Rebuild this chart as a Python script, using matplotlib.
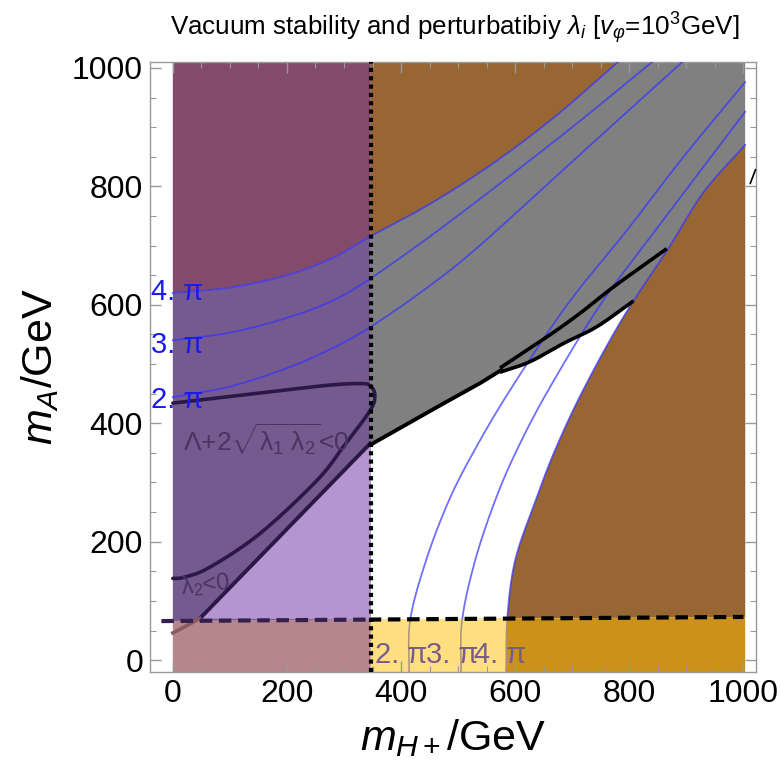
import numpy as np
import matplotlib
matplotlib.use("Agg")
import matplotlib.pyplot as plt

plt.rcParams['font.family'] = ['Liberation Sans', 'DejaVu Sans']
plt.rcParams['mathtext.fontset'] = 'custom'
plt.rcParams['mathtext.rm'] = 'Liberation Sans'
plt.rcParams['mathtext.it'] = 'Liberation Sans:italic'
plt.rcParams['mathtext.bf'] = 'Liberation Sans:bold'

# ---------------- boundary data (m_H+, m_A) in GeV ----------------
mH_cut = 347                      # vertical (dotted) bound on m_H+
mA_cut_x = [-20, 1000]            # horizontal (dashed) bound on m_A
mA_cut_y = [66, 73]

# perturbativity contours, family crossing the left edge
pert4L_x = [0, 100, 200, 280, 347, 450, 560, 670, 780]
pert4L_y = [620, 629, 650, 679, 716, 770, 838, 918, 1010]
pert3L_x = [0, 100, 200, 280, 347, 450, 560, 700, 840]
pert3L_y = [540, 553, 578, 607, 645, 715, 795, 900, 1010]
pert2L_x = [0, 100, 200, 280, 347, 450, 539, 700, 895]
pert2L_y = [444, 462, 493, 527, 563, 632, 701, 842, 1012]

# perturbativity contours, family rising from the bottom edge
pert4R_x = [584, 586, 600, 636, 670, 719, 790, 867, 930, 1003]
pert4R_y = [-20, 70, 169, 270, 355, 456, 580, 693, 790, 870]
pert3R_x = [505, 507, 530, 565, 603, 658, 749, 846, 1003]
pert3R_y = [-20, 68, 169, 270, 355, 456, 600, 726, 926]
pert2R_x = [414, 416, 444, 484, 529, 591, 691, 796, 895, 1003]
pert2R_y = [-20, 68, 169, 270, 355, 456, 600, 726, 850, 976]

# vacuum-stability boundaries
lam_x = [0, 153, 270, 330, 346, 354, 346, 300, 253, 153, 65, 20, 0]
lam_y = [434, 451, 464, 467, 463, 448, 422, 362, 304, 214, 157, 140, 138]
lam2_x = [47, 346]
lam2_y = [70, 366]
lam2_low_x = [0, 20, 47]
lam2_low_y = [46, 56, 70]
stab_c_x = [347, 468, 539, 576]
stab_c_y = [364, 430, 468, 490]
stab_d_x = [576, 656, 714, 772, 863]
stab_d_y = [495, 546, 586, 630, 693]
stab_e_x = [576, 626, 685, 743, 805]
stab_e_y = [487, 504, 535, 563, 605]

contour_labels = ["2. π", "3. π", "4. π"]
left_label_y = [439, 532, 622]
bottom_label_x = [400, 489, 574]

# plot frame
x_lo, x_hi = -40, 1022
y_lo, y_hi = -20, 1010
x_fill_hi = 1003

C_MAROON = '#844a6b'
C_PURPLE = '#745a8f'
C_LILAC = '#b495cf'
C_PINK = '#b5868c'
C_BROWN = '#976633'
C_GRAY = '#808080'
C_YELLOW = '#ffdf80'
C_GOLD = '#cc9119'
C_BLUE = (0.2, 0.2, 1.0)


def smooth(xs, ys, n=40):
    """Catmull-Rom interpolation through the given nodes."""
    p = np.column_stack([xs, ys]).astype(float)
    if len(p) < 3:
        return p[:, 0], p[:, 1]
    p = np.vstack([2 * p[0] - p[1], p, 2 * p[-1] - p[-2]])
    out = []
    t = np.linspace(0, 1, n, endpoint=False)[:, None]
    for i in range(1, len(p) - 2):
        p0, p1, p2, p3 = p[i - 1], p[i], p[i + 1], p[i + 2]
        seg = 0.5 * (2 * p1 + (-p0 + p2) * t + (2 * p0 - 5 * p1 + 4 * p2 - p3) * t ** 2
                     + (-p0 + 3 * p1 - 3 * p2 + p3) * t ** 3)
        out.append(seg)
    out.append(p[-2][None, :])
    s = np.vstack(out)
    return s[:, 0], s[:, 1]


def cut(x):
    return np.interp(x, mA_cut_x, mA_cut_y)


fig = plt.figure(figsize=(7.81, 7.75), dpi=100)
ax = fig.add_axes([150 / 781, 1 - 672 / 775, 606 / 781, 610 / 775])
ax.set_xlim(x_lo, x_hi)
ax.set_ylim(y_lo, y_hi)

L4x, L4y = smooth(pert4L_x, pert4L_y)
L3x, L3y = smooth(pert3L_x, pert3L_y)
L2x, L2y = smooth(pert2L_x, pert2L_y)
R4x, R4y = smooth(pert4R_x, pert4R_y)
R3x, R3y = smooth(pert3R_x, pert3R_y)
R2x, R2y = smooth(pert2R_x, pert2R_y)
ax_, ay_ = smooth(lam_x, lam_y, 20)
dx, dy = smooth(stab_d_x, stab_d_y)
ex, ey = smooth(stab_e_x, stab_e_y)
cx, cy = np.array(stab_c_x, float), np.array(stab_c_y, float)

# ---------------- regions, left of the m_H+ bound ----------------
ax.fill([0, mH_cut, mH_cut, 0], [y_lo, y_lo, cut(mH_cut), cut(0)], color=C_PINK, lw=0)
m = L4x <= mH_cut
yL4_cut = np.interp(mH_cut, L4x, L4y)
ax.fill(np.r_[0, mH_cut, mH_cut, L4x[m][::-1]],
        np.r_[cut(0), cut(mH_cut), yL4_cut, L4y[m][::-1]], color=C_PURPLE, lw=0)
ax.fill(np.r_[L4x[m], mH_cut, mH_cut, 0], np.r_[L4y[m], yL4_cut, y_hi, y_hi],
        color=C_MAROON, lw=0)
ax.fill(np.r_[lam2_x, mH_cut, mH_cut],
        np.r_[lam2_y, np.interp(mH_cut, lam2_x, lam2_y), cut(mH_cut)],
        color=C_LILAC, lw=0)

# ---------------- regions, right of the m_H+ bound ----------------
ax.fill([mH_cut, x_fill_hi, x_fill_hi, mH_cut], [cut(mH_cut), cut(x_fill_hi), y_hi, y_hi],
        color=C_GRAY, lw=0)
m = L4x >= mH_cut
ax.fill(np.r_[mH_cut, L4x[m], mH_cut], np.r_[yL4_cut, L4y[m], y_hi], color=C_BROWN, lw=0)
# non-perturbative region on the right
yR_bot = cut(np.interp(cut(600), R4y, R4x))
m = (R4y >= yR_bot) & (R4x <= x_fill_hi)
ax.fill(np.r_[np.interp(yR_bot, R4y, R4x), R4x[m], x_fill_hi, x_fill_hi],
        np.r_[yR_bot, R4y[m], np.interp(x_fill_hi, R4x, R4y), cut(x_fill_hi)],
        color=C_BROWN, lw=0)
# allowed (white) region
m = (R4y >= yR_bot) & (R4y <= stab_e_y[-1])
ax.fill(np.r_[mH_cut, cx, ex, R4x[m][::-1], np.interp(yR_bot, R4y, R4x)],
        np.r_[cut(mH_cut), cy, ey, R4y[m][::-1], yR_bot], color='white', lw=0)
# strip below the m_A bound
ax.fill([mH_cut, x_fill_hi, x_fill_hi, mH_cut], [y_lo, y_lo, cut(x_fill_hi), cut(mH_cut)],
        color=C_YELLOW, lw=0)
m = R4y <= yR_bot
ax.fill(np.r_[R4x[m], x_fill_hi, x_fill_hi], np.r_[R4y[m], cut(x_fill_hi), y_lo],
        color=C_GOLD, lw=0)

# ---------------- contour lines ----------------
for xs, ys in [(L4x, L4y), (L3x, L3y), (L2x, L2y)]:
    ax.plot(xs, ys, color=C_BLUE, alpha=0.7, lw=1.3, zorder=3)
for xs, ys in [(R4x, R4y), (R3x, R3y), (R2x, R2y)]:
    above = ys >= cut(xs) - 1
    ax.plot(xs[above], ys[above], color=C_BLUE, alpha=0.7, lw=1.3, zorder=3)
    ax.plot(xs[~above], ys[~above], color='#a8927e', lw=1.1, zorder=3)

# vacuum-stability curves
ax.plot(ax_, ay_, color='#2c1846', lw=2.6, zorder=4, solid_capstyle='round')
ax.plot(lam2_x, lam2_y, color='#2c1846', lw=2.8, zorder=4)
ax.plot(lam2_low_x, lam2_low_y, color='#8c5a62', lw=2.6, zorder=4)
ax.plot(cx, cy, color='black', lw=2.8, zorder=4)
ax.plot(dx, dy, color='black', lw=2.6, zorder=4)
ax.plot(ex, ey, color='black', lw=2.6, zorder=4)
ax.plot([1012, 1021], [805, 828], color='black', lw=1.2, zorder=4, clip_on=False)

# bounds
ax.plot([mH_cut, mH_cut], [y_lo, y_hi], color='black', lw=3, ls=(0, (1, 1)), zorder=5)
xd = np.array([mA_cut_x[0], mH_cut])
ax.plot(xd, cut(xd), color='#35204d', lw=3, ls=(0, (3, 1.6)), zorder=5)
xd = np.array([mH_cut, mA_cut_x[1]])
ax.plot(xd, cut(xd), color='black', lw=3, ls=(0.5, (3, 1.6)), zorder=5)

# ---------------- labels ----------------
for lab, yy in zip(contour_labels, left_label_y):
    ax.text(7, yy, lab, color='#1a1aee', fontsize=21, ha='center', va='center',
            zorder=6, clip_on=False)
for lab, xx in zip(contour_labels, bottom_label_x):
    ax.text(xx, 8, lab, color='#785c8c', fontsize=21, ha='center', va='center', zorder=6)
ax.text(163, 372, r'Λ+2$\sqrt{\mathrm{λ_1\ λ_2}}$<0', color='#4a3560', fontsize=19,
        ha='center', va='center', zorder=6)
ax.text(58, 127, r'$\mathrm{λ_2}$<0', color='#4a3560', fontsize=17, ha='center',
        va='center', rotation=6, zorder=6)

# ---------------- frame ----------------
ticks = [0, 200, 400, 600, 800, 1000]
ax.set_xticks(ticks)
ax.set_yticks(ticks)
ax.set_xticks(np.arange(0, 1001, 50), minor=True)
ax.set_yticks(np.arange(0, 1001, 50), minor=True)
ax.tick_params(which='both', direction='in', top=True, right=True, color='#999999',
               labelsize=23, pad=5)
ax.tick_params(which='major', length=8, width=1)
ax.tick_params(which='minor', length=4, width=0.8)
for s in ax.spines.values():
    s.set_color('#999999')
    s.set_linewidth(1)
ax.set_xlabel(r'$m_{H+}$/GeV', fontsize=31, labelpad=6)
ax.set_ylabel(r'$m_A$/GeV', fontsize=31, labelpad=8)
fig.text(455 / 781, 1 - 28 / 775,
         r'Vacuum stability and perturbatibiy $\lambda_i$ [$v_\varphi$=10$^3$GeV]',
         fontsize=18.7, ha='center', va='center')

fig.savefig('out.png', dpi=100)
